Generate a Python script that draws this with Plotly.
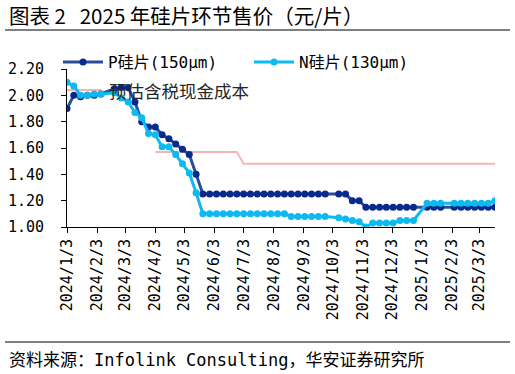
import plotly.graph_objects as go

# ---------------- data ----------------
dates = [
    "2024-01-03", "2024-01-10", "2024-01-17", "2024-01-24", "2024-01-31", "2024-02-07",
    "2024-02-21", "2024-02-28", "2024-03-06", "2024-03-13", "2024-03-20", "2024-03-27",
    "2024-04-03", "2024-04-10", "2024-04-17", "2024-04-24", "2024-05-01", "2024-05-08",
    "2024-05-15", "2024-05-22", "2024-05-29", "2024-06-05", "2024-06-12", "2024-06-19",
    "2024-06-26", "2024-07-03", "2024-07-10", "2024-07-17", "2024-07-24", "2024-07-31",
    "2024-08-07", "2024-08-14", "2024-08-21", "2024-08-28", "2024-09-04", "2024-09-11",
    "2024-09-18", "2024-09-25", "2024-10-09", "2024-10-16", "2024-10-23", "2024-10-30",
    "2024-11-06", "2024-11-13", "2024-11-20", "2024-11-27", "2024-12-04", "2024-12-11",
    "2024-12-18", "2024-12-25", "2025-01-08", "2025-01-15", "2025-01-22", "2025-02-05",
    "2025-02-12", "2025-02-19", "2025-02-26", "2025-03-05", "2025-03-12", "2025-03-19",
]

p_wafer = [
    1.90, 2.00, 1.99, 2.00, 2.00, 2.01,
    2.05, 2.06, 2.06, 1.95, 1.80, 1.76,
    1.76, 1.70, 1.67, 1.63, 1.59, 1.55,
    1.40, 1.25, 1.25, 1.25, 1.25, 1.25,
    1.25, 1.25, 1.25, 1.25, 1.25, 1.25,
    1.25, 1.25, 1.25, 1.25, 1.25, 1.25,
    1.25, 1.25, 1.25, 1.25, 1.20, 1.20,
    1.15, 1.15, 1.15, 1.15, 1.15, 1.15,
    1.15, 1.15, 1.15, 1.15, 1.15, 1.15,
    1.15, 1.15, 1.15, 1.15, 1.15, 1.15,
]

n_wafer = [
    2.10, 2.07, 2.00, 2.00, 2.01, 2.01,
    2.02, 1.98, 1.95, 1.87, 1.83, 1.71,
    1.70, 1.61, 1.61, 1.55, 1.48, 1.41,
    1.26, 1.10, 1.10, 1.10, 1.10, 1.10,
    1.10, 1.10, 1.10, 1.10, 1.10, 1.10,
    1.10, 1.10, 1.08, 1.08, 1.08, 1.08,
    1.08, 1.08, 1.07, 1.06, 1.05, 1.04,
    1.00, 1.03, 1.03, 1.03, 1.03, 1.05,
    1.05, 1.05, 1.18, 1.18, 1.18, 1.18,
    1.18, 1.18, 1.18, 1.18, 1.18, 1.20,
]

cost = [
    2.04, 2.04, 2.04, 2.04, 2.04, 2.04,
    None, None, None, None, None, None,
    1.57, 1.57, 1.57, 1.57, 1.57, 1.57,
    1.57, 1.57, 1.57, 1.57, 1.57, 1.57,
    1.57, 1.48, 1.48, 1.48, 1.48, 1.48,
    1.48, 1.48, 1.48, 1.48, 1.48, 1.48,
    1.48, 1.48, 1.48, 1.48, 1.48, 1.48,
    1.48, 1.48, 1.48, 1.48, 1.48, 1.48,
    1.48, 1.48, 1.48, 1.48, 1.48, 1.48,
    1.48, 1.48, 1.48, 1.48, 1.48, 1.48,
]

tick_dates = [
    "2024-01-03", "2024-02-03", "2024-03-03", "2024-04-03", "2024-05-03",
    "2024-06-03", "2024-07-03", "2024-08-03", "2024-09-03", "2024-10-03",
    "2024-11-03", "2024-12-03", "2025-01-03", "2025-02-03", "2025-03-03",
]
tick_labels = [
    "2024/1/3", "2024/2/3", "2024/3/3", "2024/4/3", "2024/5/3",
    "2024/6/3", "2024/7/3", "2024/8/3", "2024/9/3", "2024/10/3",
    "2024/11/3", "2024/12/3", "2025/1/3", "2025/2/3", "2025/3/3",
]
y_ticks = [1.00, 1.20, 1.40, 1.60, 1.80, 2.00, 2.20]

series_names = ["P硅片(150μm)", "N硅片(130μm)"]
title_text = "图表 2\u00a0\u00a0\u00a02025 年硅片环节售价（元/片）"
note_text = "预估含税现金成本"
source_text = "资料来源：Infolink Consulting，华安证券研究所"

# ---------------- figure ----------------
W, H = 515, 374
L, R, T, B = 67, 20, 69, 147
pw, ph = W - L - R, H - T - B


def px_x(px):
    return (px - L) / pw


def px_y(py):
    return (H - B - py) / ph


mono = "DejaVu Sans Mono, Noto Sans CJK SC, sans-serif"
cjk = "Noto Sans CJK SC, sans-serif"

fig = go.Figure()

fig.add_trace(go.Scatter(
    x=dates, y=cost, mode="lines", name="cost", showlegend=False,
    line=dict(color="#F6B5B3", width=2), connectgaps=False, hoverinfo="skip",
))
fig.add_trace(go.Scatter(
    x=dates, y=p_wafer, mode="lines+markers", name=series_names[0],
    line=dict(color="#2C4C9C", width=3),
    marker=dict(color="#082A8C", size=7),
))
fig.add_trace(go.Scatter(
    x=dates, y=n_wafer, mode="lines+markers", name=series_names[1],
    line=dict(color="#0DBAF0", width=3),
    marker=dict(color="#0DBAF0", size=7),
))

fig.update_layout(
    width=W, height=H,
    margin=dict(l=L, r=R, t=T, b=B, pad=0, autoexpand=False),
    paper_bgcolor="white", plot_bgcolor="white",
    font=dict(family=mono, size=15, color="black"),
    showlegend=True,
    legend=dict(
        orientation="h", x=px_x(58), xanchor="left", y=px_y(62), yanchor="middle",
        font=dict(family=mono, size=16, color="black"),
        entrywidth=136, entrywidthmode="pixels", itemwidth=40,
        bgcolor="rgba(0,0,0,0)", borderwidth=0,
        tracegroupgap=0,
    ),
    xaxis=dict(
        type="date", range=["2024-01-03", "2025-03-19"],
        tickvals=tick_dates, ticktext=tick_labels, tickangle=-90,
        ticks="outside", ticklen=5, tickcolor="black", tickwidth=1,
        showline=True, linecolor="black", linewidth=1,
        showgrid=False, zeroline=False, automargin=False,
        tickfont=dict(family=mono, size=15, color="black"),
    ),
    yaxis=dict(
        range=[1.0, 2.2], tickvals=y_ticks, tickformat=".2f",
        ticks="outside", ticklen=5, tickcolor="black", tickwidth=1,
        showline=True, linecolor="black", linewidth=1,
        showgrid=False, zeroline=False, automargin=False,
        tickfont=dict(family=mono, size=15, color="black"),
        ticklabelstandoff=14,
    ),
)

fig.add_annotation(
    xref="paper", yref="paper", x=px_x(7), y=px_y(15), xanchor="left", yanchor="middle",
    text=title_text, showarrow=False, font=dict(family=cjk, size=20.5, color="black"),
)
fig.add_annotation(
    xref="paper", yref="paper", x=px_x(107), y=px_y(90), xanchor="left", yanchor="middle",
    text=note_text, showarrow=False, font=dict(family=cjk, size=17.5, color="#262626"),
)
fig.add_annotation(
    xref="paper", yref="paper", x=px_x(7), y=px_y(360), xanchor="left", yanchor="middle",
    text=source_text, showarrow=False, font=dict(family=mono, size=17, color="black"),
)

fig.add_shape(type="line", xref="paper", yref="paper",
              x0=px_x(5), x1=px_x(510), y0=px_y(30), y1=px_y(30),
              line=dict(color="#7F7F7F", width=2))
fig.add_shape(type="line", xref="paper", yref="paper",
              x0=px_x(5), x1=px_x(510), y0=px_y(342), y1=px_y(342),
              line=dict(color="#7F7F7F", width=2))

fig.write_html(
    "out.html",
    config={"displayModeBar": False},
    post_script="document.body.style.margin='0px';document.documentElement.style.overflow='hidden';",
)
